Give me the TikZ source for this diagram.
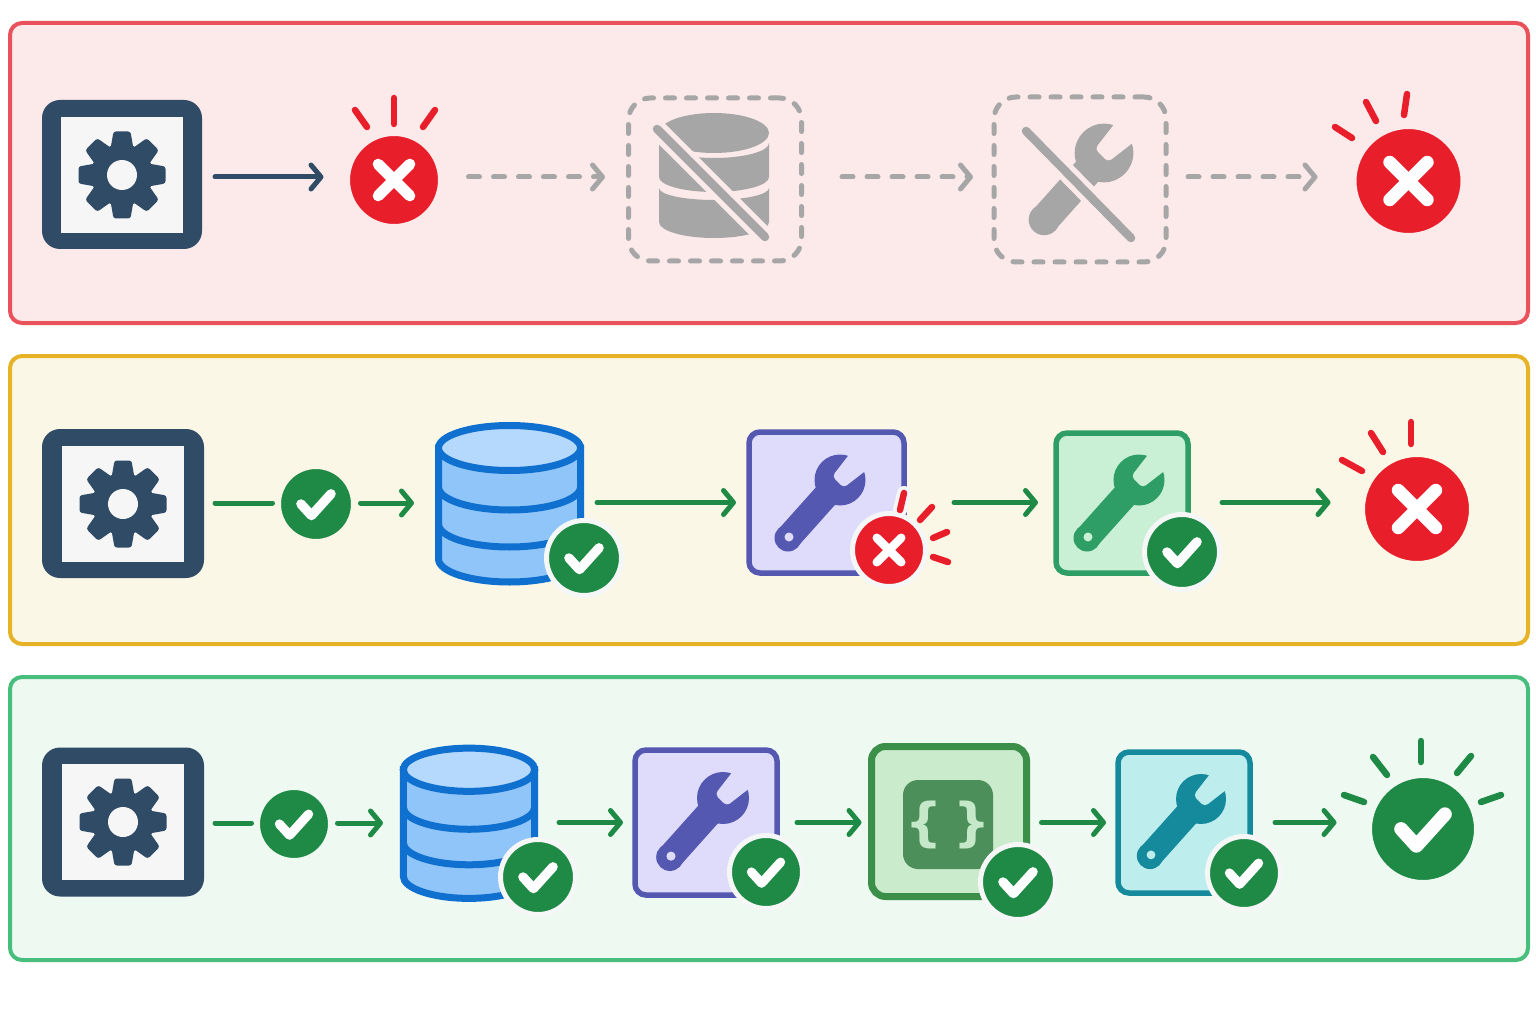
\documentclass[tikz,border=0pt]{standalone}
\usepackage{fontspec}
\usepackage{xcolor}
\usepackage{tikz}
\usetikzlibrary{arrows.meta}
\newfontfamily\bracefont{DejaVu Sans}

\definecolor{navy}{HTML}{2F4B66}
\definecolor{paper}{HTML}{F7F6F6}
\definecolor{okgreen}{HTML}{1F8A45}
\definecolor{badred}{HTML}{E81F2B}
\definecolor{ghost}{HTML}{A6A6A6}
\definecolor{failfill}{HTML}{FCE9EA}
\definecolor{failline}{HTML}{E9525B}
\definecolor{partfill}{HTML}{FBF7E6}
\definecolor{partline}{HTML}{E5B325}
\definecolor{passfill}{HTML}{EEF9F2}
\definecolor{passline}{HTML}{48BE7C}
\definecolor{dbline}{HTML}{1070D0}
\definecolor{dbtop}{HTML}{B5D8FD}
\definecolor{dbbody}{HTML}{90C5FA}
\definecolor{violetink}{HTML}{5558B0}
\definecolor{violetfill}{HTML}{DEDCFA}
\definecolor{mintink}{HTML}{2F9E66}
\definecolor{mintfill}{HTML}{C9EFD5}
\definecolor{tealink}{HTML}{158A9C}
\definecolor{tealfill}{HTML}{BEEDEE}
\definecolor{codeink}{HTML}{3C8F48}
\definecolor{codefill}{HTML}{CBEBCD}
\definecolor{codechip}{HTML}{4C8F5A}
\definecolor{codetext}{HTML}{C4E8C8}
\definecolor{halo}{HTML}{F4F7F6}

%% badge with a tick: name, position, radius, ring colour
\newcommand{\okbadge}[4]{
  \node[badge, fill=okgreen, draw=#4, minimum size=2*#3pt+5pt] (#1) at (#2) {};
  \draw[markln, line width=0.27*#3pt]
    ([shift={(-0.43*#3pt,0pt)}]#1.center) -- ([shift={(-0.13*#3pt,-0.33*#3pt)}]#1.center)
    -- ([shift={(0.43*#3pt,0.29*#3pt)}]#1.center);
}
%% badge with a cross: name, position, radius, ring colour
\newcommand{\xbadge}[4]{
  \node[badge, fill=badred, draw=#4, minimum size=2*#3pt+5pt] (#1) at (#2) {};
  \draw[markln, line width=0.25*#3pt]
    ([shift={(-0.36*#3pt,-0.36*#3pt)}]#1.center) -- ([shift={(0.36*#3pt,0.36*#3pt)}]#1.center);
  \draw[markln, line width=0.25*#3pt]
    ([shift={(-0.36*#3pt,0.36*#3pt)}]#1.center) -- ([shift={(0.36*#3pt,-0.36*#3pt)}]#1.center);
}
%% wrench: head position, scale, ink, colour behind it, colour of the hole
\newcommand{\wrenchmark}[5]{
  \begin{scope}[shift={(#1)}, scale=#2]
    \fill[#3] (0,0) circle[radius=25.5pt];
    \fill[#3] (-0.4,19.7) -- (-42.4,66.7) -- (-61.6,49.3) -- (-19.6,2.3) -- cycle;
    \fill[#3] (-52,58) circle[radius=13.5pt];
    \fill[#4, rounded corners=4pt] (3.6,7.8) -- (37.5,-18.5) -- (18.5,-37.5) -- (-7.8,-3.6) -- cycle;
    \fill[#5] (-51,57) circle[radius=4.5pt];
  \end{scope}
}

\begin{document}
\begin{tikzpicture}[
  x=1pt, y=-1pt,
  rowbox/.style  = {draw=#1, line width=4pt, rounded corners=12pt,
                    inner sep=0pt, outer sep=0pt},
  setbox/.style  = {fill=navy, rounded corners=18pt, inner sep=0pt, outer sep=0pt,
                    minimum width=160pt, minimum height=149pt},
  ghostbox/.style= {draw=ghost, line width=5pt, rounded corners=22pt, line cap=round,
                    dash pattern=on 9pt off 12pt, inner sep=0pt, outer sep=0pt},
  toolbox/.style = {draw=#1, line width=5.5pt, rounded corners=11pt,
                    inner sep=0pt, outer sep=0pt},
  slot/.style    = {inner sep=0pt, outer sep=0pt},
  badge/.style   = {circle, line width=5pt, inner sep=0pt, outer sep=0pt},
  markln/.style  = {white, line cap=round, line join=round},
  spark/.style   = {line width=6.5pt, line cap=round},
  arr/.style     = {line width=5pt, line cap=round, line join=round,
                    -{Straight Barb[length=10pt,width=24pt,round]}},
  dasharr/.style = {arr, ghost, dash pattern=on 11pt off 14pt},
  link/.style    = {line width=5pt, line cap=round, okgreen},
  gearpanel/.pic = {
    \fill[paper] (-61,-58) rectangle (61,58);
    \fill[navy] (0,0) circle[radius=31pt];
    \foreach \a in {0,45,...,315}
      \fill[navy, rounded corners=2.5pt, rotate=\a]
        (-11.5,-26) -- (-8.5,-43.5) -- (8.5,-43.5) -- (11.5,-26) -- cycle;
    \fill[paper] (0,0) circle[radius=15pt];
  },
  dbstack/.pic = {
    \draw[dbline, line width=7pt, fill=dbbody] (-71,-56) -- (-71,55)
      arc[start angle=180,end angle=360,x radius=71pt,y radius=23pt] -- (71,-56) -- cycle;
    \draw[dbline, line width=7pt] (-71,-17)
      arc[start angle=180,end angle=360,x radius=71pt,y radius=23pt];
    \draw[dbline, line width=7pt] (-71,20)
      arc[start angle=180,end angle=360,x radius=71pt,y radius=23pt];
    \draw[dbline, line width=7pt, fill=dbtop] (0,-56)
      ellipse[x radius=71pt,y radius=22.5pt];
  },
]
\path[use as bounding box, fill=white] (0,0) rectangle (1536,1024);

%% ── ROW PANELS ──────────────────────────────────────────────────────────
\node[rowbox=failline, fill=failfill, minimum width=1518pt, minimum height=300pt] (rowfail) at (769,173) {};
\node[rowbox=partline, fill=partfill, minimum width=1518pt, minimum height=288pt] (rowpart) at (769,500) {};
\node[rowbox=passline, fill=passfill, minimum width=1518pt, minimum height=283pt] (rowpass) at (769,818.5) {};

%% ── TOP ROW ─────────────────────────────────────────────────────────────
\node[setbox] (set1) at (122,174.5) {};
\pic at (122,175) {gearpanel};
\xbadge{fail1}{394,180}{44}{failfill}
\node[ghostbox, minimum width=173pt, minimum height=163pt] (ghostdb) at (715,179.5) {};
\node[ghostbox, minimum width=172pt, minimum height=165pt] (ghosttool) at (1080,179.5) {};
\xbadge{fail2}{1408.5,181}{52}{failfill}

%% struck out database
\fill[ghost] (714,133) ellipse[x radius=55pt,y radius=20pt];
\fill[ghost] (659,143) arc[start angle=180,end angle=360,x radius=55pt,y radius=15pt]
  -- (769,177) arc[start angle=360,end angle=180,x radius=55pt,y radius=15pt] -- cycle;
\fill[ghost] (659,188) arc[start angle=180,end angle=360,x radius=55pt,y radius=12pt]
  -- (769,222) arc[start angle=360,end angle=180,x radius=55pt,y radius=16pt] -- cycle;
\draw[failfill, line width=19pt] (657,129) -- (765,237);
\draw[ghost, line width=8.5pt, line cap=round] (657,129) -- (765,237);

%% struck out wrench
\wrenchmark{1104,153}{1.15}{ghost}{failfill}{ghost}
\draw[failfill, line width=19pt] (1026,131) -- (1131,238);
\draw[ghost, line width=8.5pt, line cap=round] (1026,131) -- (1131,238);

\draw[arr, navy] ([xshift=13pt,yshift=-2.5pt]set1.east) -- ([xshift=-24pt,yshift=3pt]fail1.west);
\draw[dasharr] ([xshift=28pt,yshift=3pt]fail1.east) -- ([xshift=-23.5pt,yshift=2.5pt]ghostdb.west);
\draw[dasharr] ([xshift=40.5pt,yshift=2.5pt]ghostdb.east) -- ([xshift=-21pt,yshift=2.5pt]ghosttool.west);
\draw[dasharr] ([xshift=22pt,yshift=2.5pt]ghosttool.east) -- ([xshift=-36.5pt,yshift=4pt]fail2.west);

\foreach \ax/\ay/\bx/\by in {355/110/367/127, 394/98/394/124, 435/110/423/127,
    1335/127/1352/138, 1366/102/1376/121, 1407/94/1404/115}
  \draw[spark, badred] (\ax,\ay) -- (\bx,\by);

%% ── MIDDLE ROW ──────────────────────────────────────────────────────────
\node[setbox, minimum width=162pt] (set2) at (123,503.5) {};
\pic at (123,504) {gearpanel};
\okbadge{ok2}{316,504}{35}{partfill}
\node[slot, minimum width=149pt, minimum height=163pt] (db1) at (509.5,504) {};
\pic at (509.5,504) {dbstack};
\okbadge{dbok1}{584,558}{35}{halo}
\node[toolbox=violetink, fill=violetfill, minimum width=155pt, minimum height=141pt] (tool1) at (826.5,502.5) {};
\wrenchmark{840,480}{1}{violetink}{violetfill}{violetfill}
\draw[halo, line width=14pt, line cap=round] (904,493) -- (900,510);
\xbadge{toolfail}{889,550}{34}{halo}
\node[toolbox=mintink, fill=mintfill, minimum width=132pt, minimum height=140pt] (tool2) at (1122,503) {};
\wrenchmark{1139,480}{1}{mintink}{mintfill}{mintfill}
\okbadge{toolok}{1182,552}{35}{halo}
\xbadge{fail3}{1417,509}{52}{partfill}

\draw[link] ([xshift=11pt,yshift=0.5pt]set2.east) -- ([xshift=-6pt,yshift=1pt]ok2.west);
\draw[arr, okgreen] ([xshift=7pt,yshift=1pt]ok2.east) -- ([xshift=-21pt,yshift=1pt]db1.west);
\draw[arr, okgreen] ([xshift=13pt,yshift=1.5pt]db1.east) -- ([xshift=-13pt]tool1.west);
\draw[arr, okgreen] ([xshift=50pt]tool1.east) -- ([xshift=-18pt,yshift=0.5pt]tool2.west);
\draw[arr, okgreen] ([xshift=34pt,yshift=0.5pt]tool2.east) -- ([xshift=-32pt,yshift=6.5pt]fail3.west);

\foreach \ax/\ay/\bx/\by in {904/493/900/510, 932/507/920/520, 947/532/933/538, 948/562/933/557,
    1411/422/1411/444, 1371/433/1383/452, 1342/460/1362/471}
  \draw[spark, badred] (\ax,\ay) -- (\bx,\by);

%% ── BOTTOM ROW ──────────────────────────────────────────────────────────
\node[setbox, minimum width=162pt] (set3) at (123,822) {};
\pic at (123,822) {gearpanel};
\okbadge{ok3}{294,824}{34}{passfill}
\node[slot, minimum width=138pt, minimum height=157pt] (db2) at (469,823.5) {};
\pic[xscale=0.925, yscale=0.96] at (469,823.5) {dbstack};
\okbadge{dbok2}{538,877}{35}{halo}
\node[toolbox=violetink, fill=violetfill, minimum width=142pt, minimum height=145pt] (tool3) at (706,822.5) {};
\wrenchmark{723,798}{1.02}{violetink}{violetfill}{violetfill}
\okbadge{toolok2}{766,872}{34}{halo}
\node[toolbox=codeink, line width=7pt, fill=codefill, minimum width=155pt, minimum height=150pt, rounded corners=14pt] (code) at (949,821.5) {};
\node[slot, fill=codechip, rounded corners=15pt, minimum width=90pt, minimum height=89pt,
      text=codetext, font=\bracefont\bfseries\fontsize{52}{52}\selectfont] (codechip) at (948,824.5) {\{\hspace{10pt}\}};
\okbadge{codeok}{1018,882}{35}{halo}
\node[toolbox=tealink, fill=tealfill, minimum width=132pt, minimum height=141pt] (tool4) at (1184,822.5) {};
\wrenchmark{1201,799}{0.98}{tealink}{tealfill}{tealfill}
\okbadge{toolok3}{1244,873}{34}{halo}
\okbadge{pass}{1423,829}{51}{passfill}

\draw[link] ([xshift=11pt,yshift=-1pt]set3.east) -- ([xshift=-6pt,yshift=1pt]ok3.west);
\draw[arr, okgreen] ([xshift=7pt,yshift=1pt]ok3.east) -- ([xshift=-17pt,yshift=0.5pt]db2.west);
\draw[arr, okgreen] ([xshift=21pt,yshift=1pt]db2.east) -- ([xshift=-12pt]tool3.west);
\draw[arr, okgreen] ([xshift=20pt]tool3.east) -- ([xshift=-10pt,yshift=-1pt]code.west);
\draw[arr, okgreen] ([xshift=15pt,yshift=-1pt]code.east) -- ([xshift=-12pt]tool4.west);
\draw[arr, okgreen] ([xshift=25pt]tool4.east) -- ([xshift=-33pt,yshift=6.5pt]pass.west);

\foreach \ax/\ay/\bx/\by in {1421/741/1421/762, 1373/757/1387/775, 1344/795/1364/802,
    1471/756/1457/773, 1501/795/1481/802}
  \draw[spark, okgreen] (\ax,\ay) -- (\bx,\by);

\end{tikzpicture}
\end{document}
